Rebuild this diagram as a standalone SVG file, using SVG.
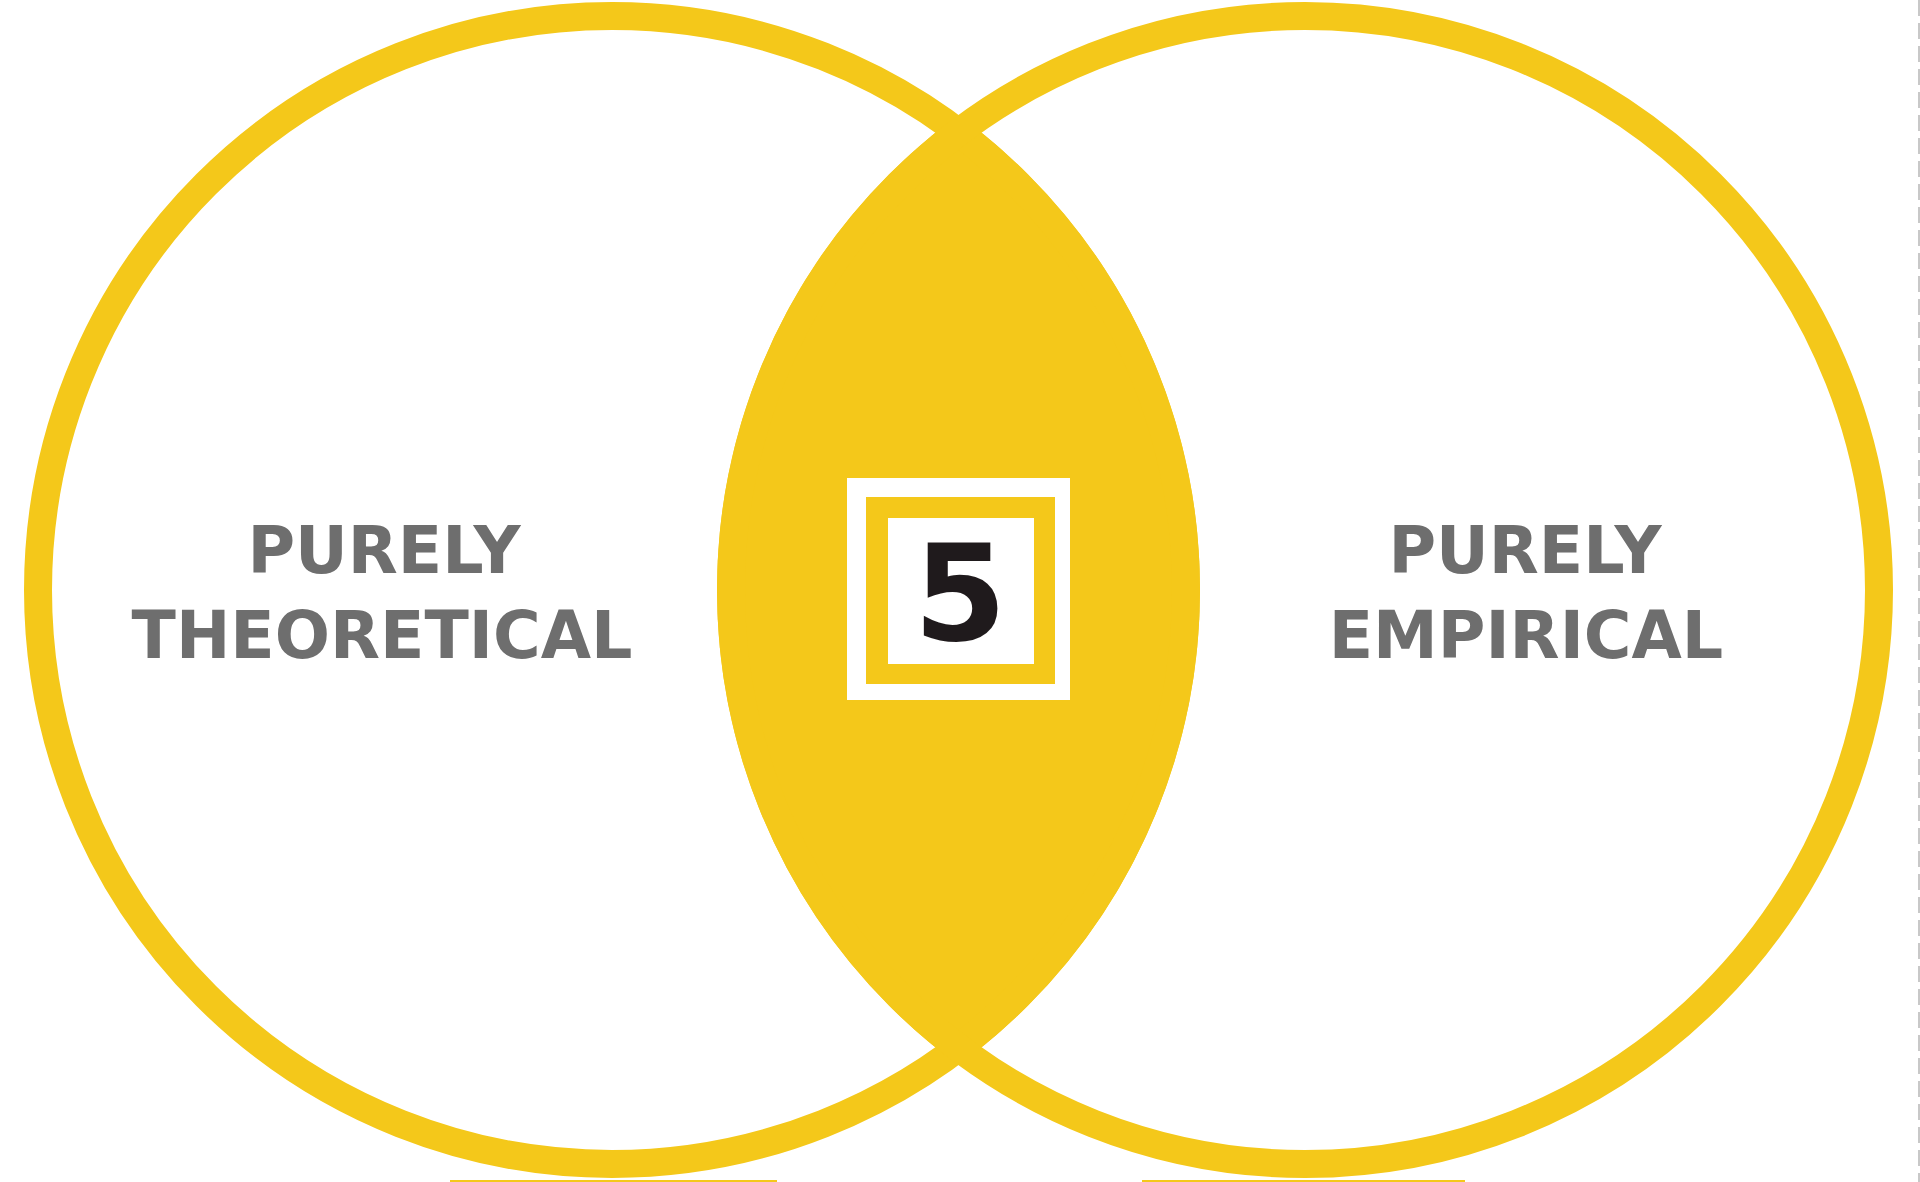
<svg xmlns="http://www.w3.org/2000/svg" width="1920" height="1182" viewBox="0 0 1920 1182">
  <defs>
    <style>
      .ring { fill: none; stroke: #F4C81A; stroke-width: 28; }
      .yel { fill: #F4C81A; }
      .wht { fill: #FFFFFF; }
      .lbl { font-family: "DejaVu Sans", "Liberation Sans", sans-serif; font-weight: 700; font-size: 65px; fill: #6E6E6E; text-anchor: middle; }
      .num { font-family: "DejaVu Sans", "Liberation Sans", sans-serif; font-weight: 700; font-size: 134px; fill: #1F1A1C; text-anchor: middle; }
    </style>
    <clipPath id="rightClip">
      <circle cx="1305" cy="590" r="588"/>
    </clipPath>
  </defs>
  <rect x="0" y="0" width="1920" height="1182" fill="#FFFFFF"/>

  <g id="lens">
    <circle cx="612" cy="590" r="588" class="yel" clip-path="url(#rightClip)"/>
  </g>

  <g id="left-circle">
    <circle cx="612" cy="590" r="574" class="ring"/>
    <text class="lbl" x="384" y="573">PURELY</text>
    <text class="lbl" x="382" y="658">THEORETICAL</text>
  </g>

  <g id="right-circle">
    <circle cx="1305" cy="590" r="574" class="ring"/>
    <text class="lbl" x="1525" y="573">PURELY</text>
    <text class="lbl" x="1526" y="658">EMPIRICAL</text>
  </g>

  <g id="badge">
    <rect x="847" y="478" width="223" height="222" class="wht"/>
    <rect x="866" y="497" width="189" height="187" class="yel"/>
    <rect x="888" y="518" width="146" height="146" class="wht"/>
    <text class="num" x="960" y="640">5</text>
  </g>

  <g id="edges">
    <rect x="450" y="1180" width="327" height="2" class="yel"/>
    <rect x="1142" y="1180" width="323" height="2" class="yel"/>
    <line x1="1919" y1="0" x2="1919" y2="1182" stroke="#C8C8C8" stroke-width="2" stroke-dasharray="16 7"/>
  </g>
</svg>
